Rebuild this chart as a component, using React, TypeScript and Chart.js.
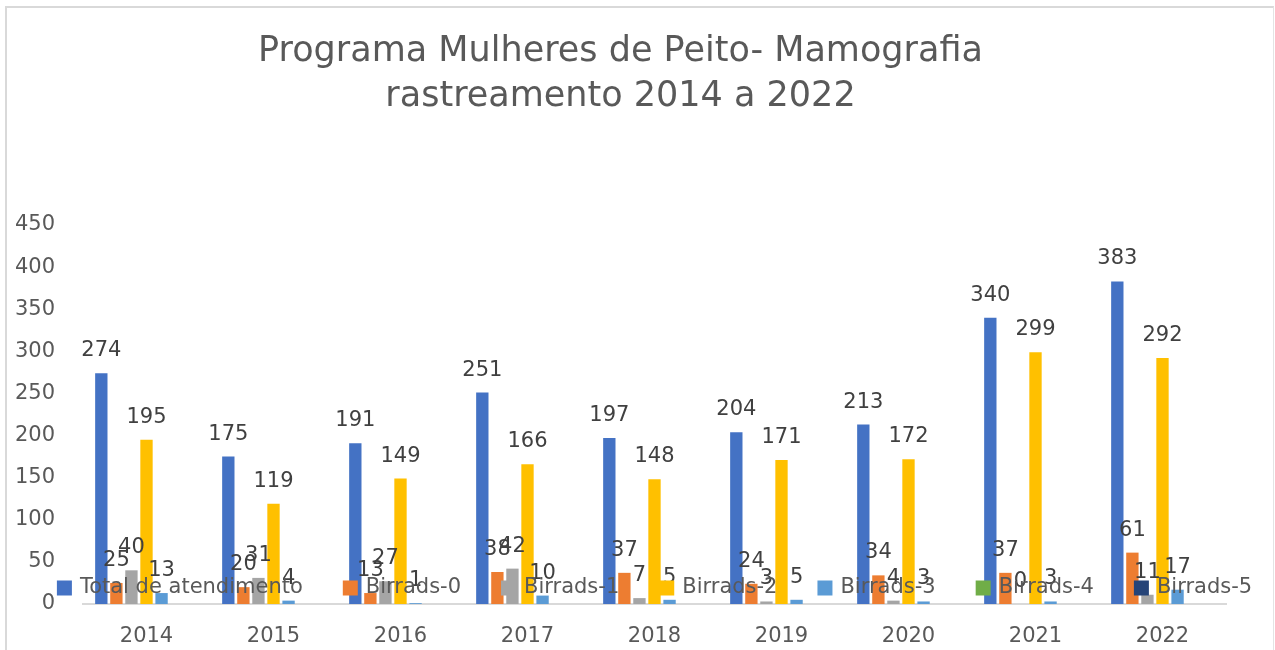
import React, { useEffect, useRef } from "react";
import { Chart, registerables } from "chart.js";

Chart.register(...registerables);

const categories = ["2014", "2015", "2016", "2017", "2018", "2019", "2020", "2021", "2022"];
const totalAtendimento = [274, 175, 191, 251, 197, 204, 213, 340, 383];
const birrads0 = [25, 20, 13, 38, 37, 24, 34, 37, 61];
const birrads1 = [40, 31, 27, 42, 7, 3, 4, 0, 11];
const birrads2 = [195, 119, 149, 166, 148, 171, 172, 299, 292];
const birrads3 = [13, 4, 1, 10, 5, 5, 3, 3, 17];
const birrads4 = [null, null, null, null, null, null, null, null, null];
const birrads5 = [null, null, null, null, null, null, null, null, null];
const seriesNames = [
  "Total de atendimento",
  "Birrads-0",
  "Birrads-1",
  "Birrads-2",
  "Birrads-3",
  "Birrads-4",
  "Birrads-5",
];
const seriesColors = ["#4472C4", "#ED7D31", "#A5A5A5", "#FFC000", "#5B9BD5", "#70AD47", "#264478"];
const yMin = 0;
const yMax = 450;
const yStep = 50;
const titleLines = ["Programa Mulheres de Peito- Mamografia", "rastreamento 2014 a 2022"];

const FONT = '"DejaVu Sans", sans-serif';
const TEXT_COLOR = "#595959";
const LABEL_COLOR = "#404040";

const dataLabelPlugin = {
  id: "barValueLabels",
  afterDatasetsDraw(chart: any) {
    const ctx = chart.ctx;
    ctx.save();
    ctx.font = `21px ${FONT}`;
    ctx.fillStyle = LABEL_COLOR;
    ctx.textAlign = "center";
    ctx.textBaseline = "alphabetic";
    chart.data.datasets.forEach((ds: any, i: number) => {
      const meta = chart.getDatasetMeta(i);
      meta.data.forEach((el: any, j: number) => {
        const v = ds.data[j];
        if (v === null || v === undefined) return;
        ctx.fillText(String(v), el.x, el.y - 17);
      });
    });
    ctx.restore();
  },
};

const overlayLegendPlugin = {
  id: "overlayLegend",
  afterDraw(chart: any) {
    const ctx = chart.ctx;
    const area = chart.chartArea;
    ctx.save();
    ctx.font = `21px ${FONT}`;
    const box = 15;
    const gapBox = 8;
    const gapItem = 40;
    const items = chart.data.datasets.map((ds: any) => ({
      text: ds.label,
      color: ds.backgroundColor,
      w: box + gapBox + ctx.measureText(ds.label).width,
    }));
    const total =
      items.reduce((s: number, it: any) => s + it.w, 0) + gapItem * (items.length - 1);
    let x = (area.left + area.right) / 2 - total / 2;
    const y = area.bottom - 16;
    items.forEach((it: any) => {
      ctx.fillStyle = it.color;
      ctx.fillRect(x, y - box / 2, box, box);
      ctx.fillStyle = TEXT_COLOR;
      ctx.textBaseline = "middle";
      ctx.textAlign = "left";
      ctx.fillText(it.text, x + box + gapBox, y);
      x += it.w + gapItem;
    });
    ctx.restore();
  },
};

export default function App() {
  const ref = useRef<HTMLCanvasElement | null>(null);

  useEffect(() => {
    if (!ref.current) return;
    const seriesData = [totalAtendimento, birrads0, birrads1, birrads2, birrads3, birrads4, birrads5];
    const chart = new Chart(ref.current, {
      type: "bar",
      data: {
        labels: categories,
        datasets: seriesNames.map((name, i) => ({
          label: name,
          data: seriesData[i] as any,
          backgroundColor: seriesColors[i],
          borderWidth: 0,
          categoryPercentage: 0.83,
          barPercentage: 0.82,
        })),
      },
      options: {
        responsive: false,
        animation: false,
        layout: { padding: { left: 15, right: 49, top: 29, bottom: 0 } },
        plugins: {
          legend: { display: false },
          tooltip: { enabled: false },
          title: {
            display: true,
            text: titleLines,
            color: TEXT_COLOR,
            font: { family: FONT, size: 35, weight: "normal", lineHeight: 45 / 35 },
            padding: { top: 0, bottom: 106 },
          },
        },
        scales: {
          x: {
            grid: { display: false },
            border: { display: true, color: "#D9D9D9", width: 2 },
            ticks: { color: TEXT_COLOR, font: { family: FONT, size: 21 }, padding: 12 },
            afterFit: (s: any) => {
              s.height = 46;
            },
          },
          y: {
            min: yMin,
            max: yMax,
            ticks: {
              stepSize: yStep,
              color: TEXT_COLOR,
              font: { family: FONT, size: 21 },
              padding: 20,
            },
            grid: { display: false },
            border: { display: false },
            afterFit: (s: any) => {
              s.width = 68;
            },
          },
        },
      } as any,
      plugins: [dataLabelPlugin, overlayLegendPlugin],
    });
    return () => chart.destroy();
  }, []);

  return (
    <div
      style={{
        position: "fixed",
        left: 0,
        top: 0,
        width: 1275,
        height: 650,
        background: "#ffffff",
        overflow: "hidden",
      }}
    >
      <div
        style={{
          position: "absolute",
          left: 5,
          top: 6,
          width: 1269,
          height: 700,
          borderLeft: "2px solid #d9d9d9",
          borderTop: "2px solid #d9d9d9",
          borderRight: "1px solid #e4e4e4",
          boxSizing: "border-box",
        }}
      />
      <canvas ref={ref} width={1275} height={650} style={{ position: "absolute", left: 0, top: 0 }} />
    </div>
  );
}
